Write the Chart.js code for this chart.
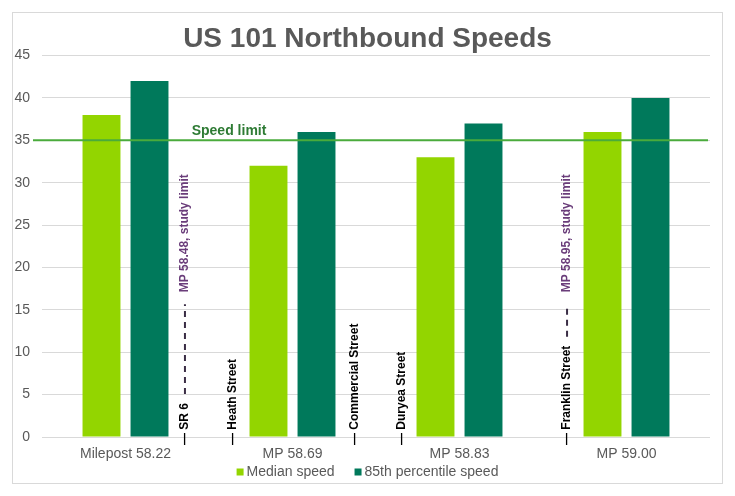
<!DOCTYPE html>
<html>
<head>
<meta charset="utf-8">
<script src="https://cdn.jsdelivr.net/npm/chart.js@4.4.1/dist/chart.umd.min.js"></script>
<style>
  html, body { margin: 0; padding: 0; background: #fff; }
  #frame {
    position: absolute; left: 12px; top: 12px;
    width: 711px; height: 472px;
    box-sizing: border-box; border: 1px solid #d9d9d9;
  }
  #speeds { display: block; }
</style>
</head>
<body>
<div id="frame"><canvas id="speeds" width="709" height="470"></canvas></div>
<script>
// chart data
const milepostLabels = ["Milepost 58.22", "MP 58.69", "MP 58.83", "MP 59.00"];
const medianSpeed = [38, 32, 33, 36];
const pct85Speed = [42, 36, 37, 40];
const speedLimit = 35;

// cross streets / study limits, position given in category units
const streetPos = [0.356, 0.644, 1.374, 1.656, 2.644];
const streetNames = ["SR 6", "Heath Street", "Commercial Street", "Duryea Street", "Franklin Street"];
const studyLimits = ["MP 58.48, study limit", null, null, null, "MP 58.95, study limit"];

const grey = '#595959';
const fontFamily = '"Liberation Sans", Arial, sans-serif';

const overlay = {
  id: 'overlay',
  afterDatasetsDraw(chart) {
    const ctx = chart.ctx;
    const x = chart.scales.x, y = chart.scales.y;
    const area = chart.chartArea;

    // speed limit line
    const ly = y.getPixelForValue(speedLimit);
    ctx.save();
    ctx.strokeStyle = '#4aab3c';
    ctx.lineWidth = 2;
    ctx.beginPath();
    ctx.moveTo(area.left - 9, ly);
    ctx.lineTo(area.right - 2, ly);
    ctx.stroke();
    ctx.font = 'bold 14px ' + fontFamily;
    ctx.fillStyle = '#2e7b34';
    ctx.textAlign = 'center';
    ctx.textBaseline = 'alphabetic';
    ctx.fillText('Speed limit', x.getPixelForValue(0.62), ly - 5);
    ctx.restore();

    // vertical street labels
    const base = y.getPixelForValue(0) + 8;
    const topEnd = y.getPixelForValue(31);
    ctx.save();
    ctx.font = 'bold 12px ' + fontFamily;
    ctx.textBaseline = 'middle';
    ctx.textAlign = 'left';
    streetPos.forEach((p, i) => {
      const px = x.getPixelForValue(p);
      ctx.save();
      ctx.translate(px, base);
      ctx.rotate(-Math.PI / 2);
      const s = '\u2014 ' + streetNames[i];
      ctx.fillStyle = '#000';
      ctx.fillText(s, 0, 0);
      const limit = studyLimits[i];
      if (limit) {
        const start = ctx.measureText(s).width + 9;
        const lw = ctx.measureText(limit).width;
        const textStart = (base - topEnd) - lw;
        ctx.strokeStyle = '#3a2d45';
        ctx.lineWidth = 2;
        ctx.setLineDash([6, 5]);
        ctx.beginPath();
        ctx.moveTo(start, 0);
        ctx.lineTo(textStart - 12, 0);
        ctx.stroke();
        ctx.fillStyle = '#6a3d7a';
        ctx.fillText(limit, textStart, 0);
      }
      ctx.restore();
    });
    ctx.restore();

    // legend, square hugging the text like the original
    const sets = chart.data.datasets;
    ctx.save();
    ctx.font = '14px ' + fontFamily;
    ctx.textBaseline = 'middle';
    ctx.textAlign = 'left';
    const box = 7, gap = 3, between = 20;
    const widths = sets.map(d => box + gap + ctx.measureText(d.label).width);
    const total = widths.reduce((a, b) => a + b, 0) + between * (sets.length - 1);
    let lx = chart.width / 2 - total / 2;
    const legY = x.bottom + 11;
    sets.forEach((d, i) => {
      ctx.fillStyle = d.backgroundColor;
      ctx.fillRect(lx, legY - box / 2, box, box);
      ctx.fillStyle = grey;
      ctx.fillText(d.label, lx + box + gap, legY);
      lx += widths[i] + between;
    });
    ctx.restore();
  }
};

new Chart(document.getElementById('speeds'), {
  type: 'bar',
  data: {
    labels: milepostLabels,
    datasets: [
      { label: 'Median speed', data: medianSpeed, backgroundColor: '#93d500' },
      { label: '85th percentile speed', data: pct85Speed, backgroundColor: '#00795b' }
    ]
  },
  options: {
    responsive: false,
    animation: false,
    devicePixelRatio: 1,
    categoryPercentage: 0.575,
    barPercentage: 0.79,
    layout: { padding: { left: 0, right: 0, top: 0, bottom: 22 } },
    scales: {
      x: {
        grid: { display: false, drawTicks: false },
        border: { display: false },
        ticks: { color: grey, font: { family: fontFamily, size: 14, lineHeight: 1 }, padding: 10 },
        afterFit(scale) { scale.height = 24; }
      },
      y: {
        min: 0, max: 45,
        ticks: { stepSize: 5, color: grey, padding: 12, font: { family: fontFamily, size: 14 } },
        grid: { color: '#d9d9d9', drawTicks: false },
        border: { display: false },
        afterFit(scale) { scale.width = 29; }
      },
      // empty strip on the right so the plot ends where the original does
      yRight: {
        position: 'right',
        min: 0, max: 45,
        ticks: { display: false },
        grid: { display: false, drawTicks: false },
        border: { display: false },
        afterFit(scale) { scale.width = 12; }
      }
    },
    plugins: {
      title: {
        display: true,
        text: 'US 101 Northbound Speeds',
        color: grey,
        font: { family: fontFamily, size: 28, weight: 'bold' },
        padding: { top: 9, bottom: 0 }
      },
      legend: { display: false },
      tooltip: { enabled: false }
    }
  },
  plugins: [overlay]
});
</script>
</body>
</html>
